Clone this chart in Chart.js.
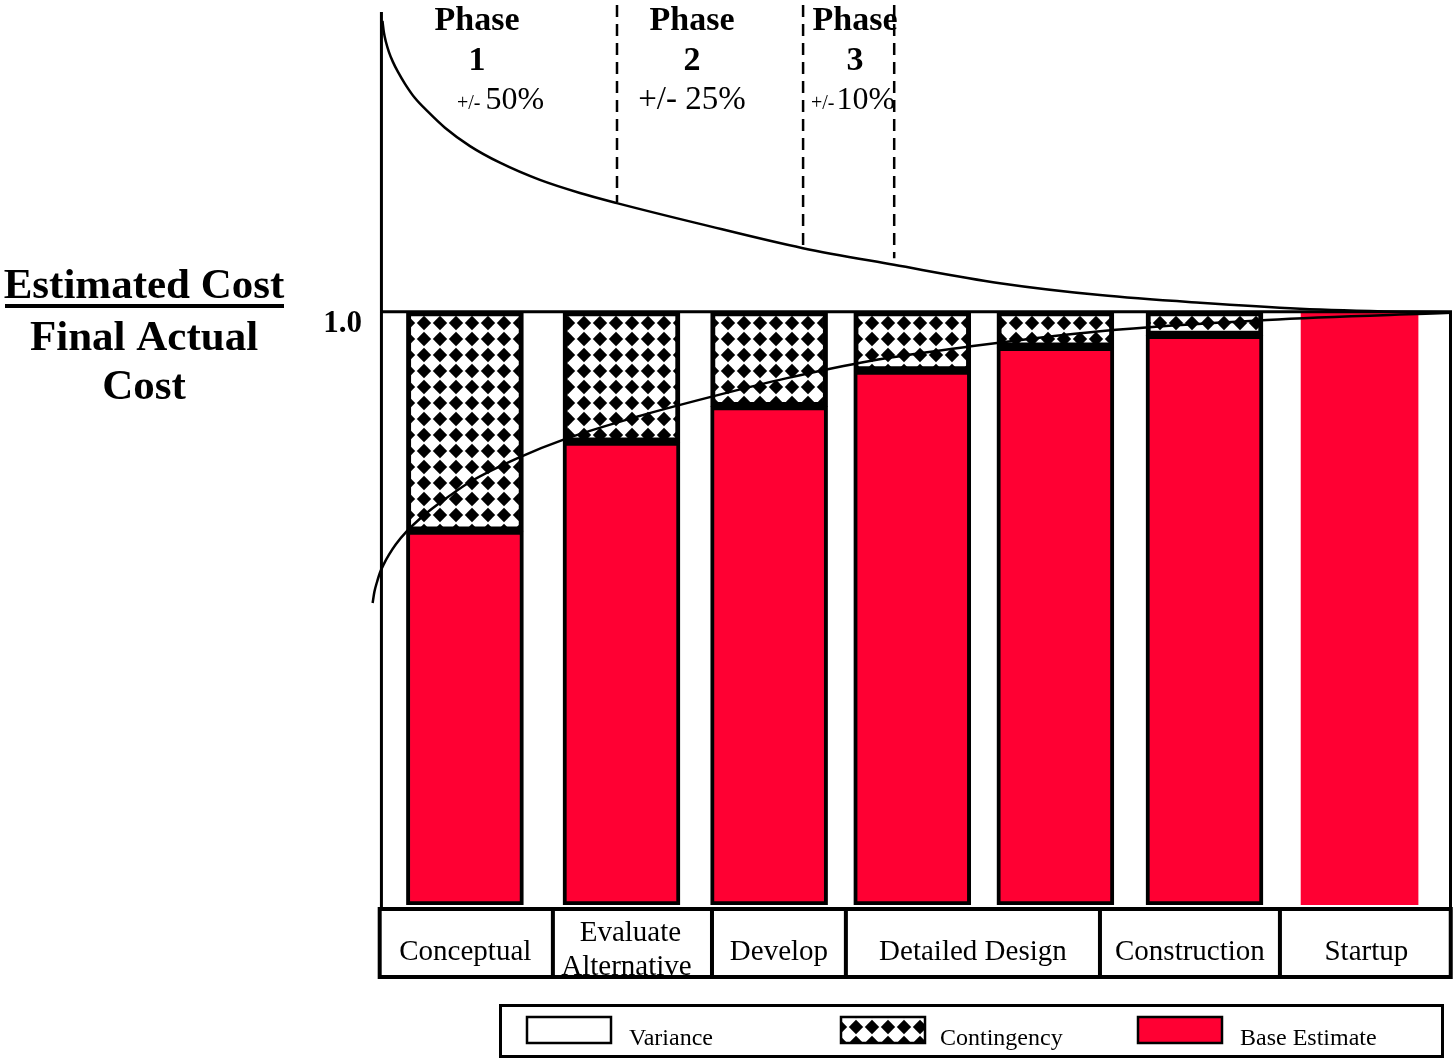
<!DOCTYPE html>
<html>
<head>
<meta charset="utf-8">
<script src="https://cdn.jsdelivr.net/npm/chart.js@4/dist/chart.umd.min.js"></script>
<style>
  html, body { margin: 0; padding: 0; background: #fff; }
  canvas { display: block; }
</style>
</head>
<body>
<canvas id="c" width="1454" height="1059"></canvas>
<script>
// ---- data -------------------------------------------------------------
// Estimate snapshots along the project timeline (x in stage units)
const snapshotAt   = [0, 1.05, 2.04, 3.0, 3.96, 4.96, 6.0];
const baseEstimate = [0.63, 0.78, 0.84, 0.90, 0.94, 0.96, 1.00];
const contingency  = [0.37, 0.22, 0.16, 0.10, 0.06, 0.04, null];

// Accuracy envelope: x in stage units, y = estimated / final actual cost
const upperX = [-0.553, -0.543, -0.530, -0.510, -0.483, -0.449, -0.402, -0.335, -0.248, -0.134, 0.034, 0.235, 0.503, 0.771, 1.019, 1.576, 2.267, 2.877, 3.588, 4.259, 4.930, 5.600, 6.271, 6.606];
const upperY = [1.490, 1.470, 1.455, 1.438, 1.421, 1.404, 1.384, 1.360, 1.337, 1.310, 1.279, 1.251, 1.222, 1.200, 1.183, 1.148, 1.107, 1.079, 1.048, 1.028, 1.015, 1.005, 1.000, 0.999];
const lowerX = [-0.619, -0.607, -0.590, -0.570, -0.543, -0.510, -0.463, -0.389, -0.302, -0.188, 0.034, 0.369, 0.657, 1.154, 1.643, 2.160, 2.716, 3.407, 4.259, 5.379, 6.613];
const lowerY = [0.509, 0.528, 0.544, 0.560, 0.575, 0.590, 0.608, 0.630, 0.651, 0.674, 0.713, 0.755, 0.784, 0.823, 0.856, 0.888, 0.917, 0.942, 0.967, 0.986, 0.998];

// Project stages shown in the boxes under the bars (edges in stage units)
const stageLabels = [['Conceptual'], ['Evaluate', 'Alternative'], ['Develop'], ['Detailed Design'], ['Construction'], ['Startup']];
const stageEdges  = [-0.585, 0.590, 1.657, 2.555, 4.259, 5.466, 6.625];

// Phase gates
const phaseNames    = ['1', '2', '3'];
const phaseAccuracy = ['50%', '25%', '10%'];
const phaseGateX    = [1.020, 2.268, 2.879];
const phaseGateEnd  = [1.185, 1.105, 1.090];

// Axis
const yTickValues  = [1.0];
const yTickLabels  = ['1.0'];
const titleTop     = 'Estimated Cost';
const titleBottom  = ['Final Actual', 'Cost'];
const legendLabels = ['Variance', 'Contingency', 'Base Estimate'];

// ---- styling / layout -------------------------------------------------
const SERIF = "'Liberation Serif', 'Times New Roman', Times, serif";
const RED = '#ff0033';
const AXIS_X = -0.57;           // stage-unit position of the vertical axis
const L = {
  title: { x: 144, y: [298, 350, 399], ul: { x: 5, y: 304, w: 279, h: 4 } },
  tick: { x: 362, dy: 20 },
  phase: { cx: [477, 692, 855], nameY: 30, numY: 70, accY: 109, smallLeft: [457, null, 811], gap: [5, 0, 2] },
  stage: { top: 909, bottom: 977, one: 960, two: [941, 975] },
  legend: { x: 500.5, y: 1005.5, w: 942, h: 51, swX: [527, 841, 1138], swW: 84, swY: 1017, swH: 26, txX: [629, 940, 1240], txY: 1045 }
};

const canvas = document.getElementById('c');
const ctx0 = canvas.getContext('2d');

// diamond checker used for the contingency fill
function diamondPattern(size, r) {
  const t = document.createElement('canvas');
  t.width = t.height = size;
  const g = t.getContext('2d');
  g.fillStyle = '#fff';
  g.fillRect(0, 0, size, size);
  g.fillStyle = '#000';
  [[0, 0], [size, 0], [0, size], [size, size]].forEach(([cx, cy]) => {
    g.beginPath();
    g.moveTo(cx, cy - r); g.lineTo(cx + r, cy); g.lineTo(cx, cy + r); g.lineTo(cx - r, cy);
    g.closePath(); g.fill();
  });
  const p = ctx0.createPattern(t, 'repeat');
  p.setTransform(new DOMMatrix().translate(8, 3));
  return p;
}
const checker = diamondPattern(16, 7.2);

const pts = (xs, ys) => xs.map((v, i) => ({ x: v, y: ys[i] }));

// ---- overlay: frame, captions, stage boxes, legend ---------------------
const overlay = {
  id: 'overlay',
  afterDatasetsDraw(chart) {
    const { ctx, chartArea: a, scales: { x, y } } = chart;
    ctx.save();
    ctx.strokeStyle = '#000';
    ctx.fillStyle = '#000';

    // frame
    const y1 = y.getPixelForValue(1.0);
    const ax = x.getPixelForValue(AXIS_X);
    ctx.lineWidth = 3;
    ctx.beginPath();
    ctx.moveTo(ax + 1.5, 12); ctx.lineTo(ax + 1.5, L.stage.top);
    ctx.moveTo(ax, y1); ctx.lineTo(a.right, y1);
    ctx.moveTo(a.right - 1.5, y1); ctx.lineTo(a.right - 1.5, L.stage.top);
    ctx.stroke();

    // phase gates
    ctx.lineWidth = 2.5;
    ctx.setLineDash([12, 7]);
    phaseGateX.forEach((g, i) => {
      const px = x.getPixelForValue(g);
      ctx.beginPath();
      ctx.moveTo(px, 5);
      ctx.lineTo(px, y.getPixelForValue(phaseGateEnd[i]));
      ctx.stroke();
    });
    ctx.setLineDash([]);

    // phase captions
    ctx.textBaseline = 'alphabetic';
    phaseNames.forEach((n, i) => {
      const cx = L.phase.cx[i];
      ctx.textAlign = 'center';
      ctx.font = `bold 34px ${SERIF}`;
      ctx.fillText('Phase', cx, L.phase.nameY);
      ctx.fillText(n, cx, L.phase.numY);
      if (L.phase.smallLeft[i] != null) {
        ctx.textAlign = 'left';
        ctx.font = `20px ${SERIF}`;
        const lx = L.phase.smallLeft[i];
        ctx.fillText('+/-', lx, L.phase.accY);
        const w = ctx.measureText('+/-').width;
        ctx.font = `32px ${SERIF}`;
        ctx.fillText(phaseAccuracy[i], lx + w + L.phase.gap[i], L.phase.accY);
      } else {
        ctx.font = `33px ${SERIF}`;
        ctx.fillText('+/- ' + phaseAccuracy[i], cx, L.phase.accY);
      }
    });

    // y tick label
    ctx.textAlign = 'right';
    ctx.font = `bold 31px ${SERIF}`;
    yTickValues.forEach((v, i) => ctx.fillText(yTickLabels[i], L.tick.x, y.getPixelForValue(v) + L.tick.dy));

    // axis title as a fraction
    ctx.textAlign = 'center';
    ctx.font = `bold 43px ${SERIF}`;
    ctx.fillText(titleTop, L.title.x, L.title.y[0]);
    ctx.fillRect(L.title.ul.x, L.title.ul.y, L.title.ul.w, L.title.ul.h);
    titleBottom.forEach((t, i) => ctx.fillText(t, L.title.x, L.title.y[i + 1]));

    // stage boxes
    const ex = stageEdges.map(v => x.getPixelForValue(v));
    ctx.lineWidth = 4;
    ctx.strokeRect(ex[0] + 2, L.stage.top, ex[ex.length - 1] - ex[0] - 4, L.stage.bottom - L.stage.top);
    ctx.beginPath();
    for (let i = 1; i < ex.length - 1; i++) {
      ctx.moveTo(ex[i], L.stage.top); ctx.lineTo(ex[i], L.stage.bottom);
    }
    ctx.stroke();
    ctx.font = `29px ${SERIF}`;
    stageLabels.forEach((lines, i) => {
      const cx = (ex[i] + ex[i + 1]) / 2;
      if (lines.length === 1) ctx.fillText(lines[0], cx, L.stage.one);
      else lines.forEach((t, k) => ctx.fillText(t, cx - 2 - 4 * k, L.stage.two[k]));
    });

    // legend
    const lg = L.legend;
    ctx.lineWidth = 3;
    ctx.strokeRect(lg.x, lg.y, lg.w, lg.h);
    const fills = ['#fff', checker, RED];
    ctx.lineWidth = 2.5;
    fills.forEach((f, i) => {
      ctx.fillStyle = f;
      ctx.fillRect(lg.swX[i], lg.swY, lg.swW, lg.swH);
      ctx.strokeRect(lg.swX[i], lg.swY, lg.swW, lg.swH);
    });
    ctx.fillStyle = '#000';
    ctx.textAlign = 'left';
    ctx.font = `24px ${SERIF}`;
    legendLabels.forEach((t, i) => ctx.fillText(t, lg.txX[i], lg.txY));

    ctx.restore();
  }
};

new Chart(canvas, {
  type: 'bar',
  data: {
    datasets: [
      {
        label: 'Base Estimate',
        data: pts(snapshotAt, baseEstimate),
        backgroundColor: RED,
        borderColor: '#000',
        borderWidth: snapshotAt.map((_, i) => (i === snapshotAt.length - 1 ? 0 : 4)),
        borderSkipped: false,
        stack: 'estimate',
        barThickness: 117,
        order: 2
      },
      {
        label: 'Contingency',
        data: pts(snapshotAt, contingency),
        backgroundColor: checker,
        borderColor: '#000',
        borderWidth: 5,
        borderSkipped: false,
        stack: 'estimate',
        barThickness: 117,
        order: 2
      },
      {
        type: 'line',
        label: 'Upper bound',
        data: pts(upperX, upperY),
        borderColor: '#000',
        borderWidth: 2.5,
        pointRadius: 0,
        fill: false,
        cubicInterpolationMode: 'monotone',
        stack: 'upper',
        clip: false,
        order: 0
      },
      {
        type: 'line',
        label: 'Lower bound',
        data: pts(lowerX, lowerY),
        borderColor: '#000',
        borderWidth: 2.5,
        pointRadius: 0,
        fill: false,
        cubicInterpolationMode: 'monotone',
        stack: 'lower',
        clip: false,
        order: 0
      }
    ]
  },
  options: {
    responsive: false,
    devicePixelRatio: 1,
    animation: false,
    layout: { padding: { left: 368, right: 2, top: 15, bottom: 154 } },
    scales: {
      x: { type: 'linear', min: -0.65, max: 6.62, offset: false, display: false, stacked: true },
      y: { type: 'linear', min: 0, max: 1.5, display: false, stacked: true }
    },
    plugins: { legend: { display: false }, tooltip: { enabled: false } }
  },
  plugins: [overlay]
});
</script>
</body>
</html>
